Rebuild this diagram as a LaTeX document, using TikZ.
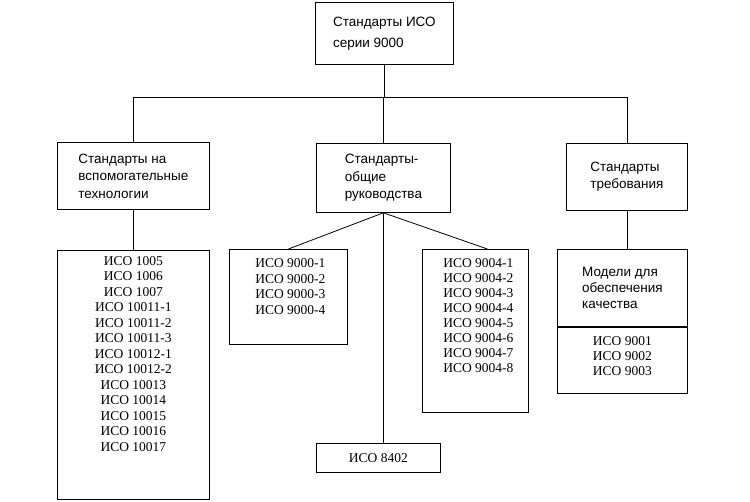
\documentclass[tikz,border=0pt]{standalone}
\usepackage{fontspec}
\setmainfont{Liberation Serif}
\setsansfont{Liberation Sans}
\usetikzlibrary{calc}

\begin{document}
\begin{tikzpicture}[x=1pt,y=-1pt,line width=0.8pt,
        hdr/.style={draw,anchor=north west,align=left,inner sep=0pt,font=\sffamily\fontsize{13.5}{17.5}\selectfont},
        lst/.style={draw,anchor=north west,inner sep=0pt,font=\fontsize{13.5}{15.5}\selectfont},
        lsttext/.style={anchor=north,align=center,inner sep=0pt,font=\fontsize{13.5}{15.5}\selectfont}]
        \useasboundingbox (0,0) rectangle (750,501);
        \node[hdr,minimum width=138pt,minimum height=62pt,font=\sffamily\fontsize{13.5}{21}\selectfont] (top) at (315,2) {Стандарты ИСО\\серии 9000};
        \node[hdr,minimum width=152pt,minimum height=67pt] (aux) at (57,142) {Стандарты на\\вспомогательные\\технологии};
        \node[hdr,minimum width=134pt,minimum height=69pt] (gen) at (316,143) {Стандарты-\\общие\\руководства};
        \node[hdr,minimum width=121pt,minimum height=67pt] (req) at (566,143) {Стандарты\\требования};
        \node[lst,minimum width=152pt,minimum height=249pt] (auxlist) at (57,250) {};
        \node[lsttext] (auxitems) at ($(auxlist.north)+(0,6)$) {ИСО 1005\\ИСО 1006\\ИСО 1007\\ИСО 10011-1\\ИСО 10011-2\\ИСО 10011-3\\ИСО 10012-1\\ИСО 10012-2\\ИСО 10013\\ИСО 10014\\ИСО 10015\\ИСО 10016\\ИСО 10017};
        \node[lst,minimum width=118pt,minimum height=95pt] (l9000) at (229,249) {};
        \node[lsttext] (items9000) at ($(l9000.north)+(2,9.5)$) {ИСО 9000-1\\ИСО 9000-2\\ИСО 9000-3\\ИСО 9000-4};
        \node[lst,minimum width=106pt,minimum height=163pt] (l9004) at (422,249) {};
        \node[lsttext,font=\fontsize{13.5}{15}\selectfont] (items9004) at ($(l9004.north)+(3,9.5)$) {ИСО 9004-1\\ИСО 9004-2\\ИСО 9004-3\\ИСО 9004-4\\ИСО 9004-5\\ИСО 9004-6\\ИСО 9004-7\\ИСО 9004-8};
        \node[lst,minimum width=124pt,minimum height=29pt] (l8402) at (316,443) {ИСО 8402};
        \node[hdr,minimum width=130pt,minimum height=77pt,font=\sffamily\fontsize{13.5}{16}\selectfont] (modelhead) at (557,249) {Модели для\\обеспечения\\качества};
        \node[lst,minimum width=130pt,minimum height=67pt] (modellist) at (557,326) {};
        \node[lsttext,font=\fontsize{13.5}{15}\selectfont] (items9001) at ($(modellist.north)+(0,10)$) {ИСО 9001\\ИСО 9002\\ИСО 9003};
        \draw[line width=1.6pt] (modelhead.south west) -- (modelhead.south east);
        \coordinate (bus) at ($(top.south)+(0,33)$);
        \draw (top.south) -- (bus);
        \draw (aux.north) -- (aux.north |- bus) -- (req.north |- bus) -- (req.north);
        \draw (gen.north) -- (gen.north |- bus);
        \draw (aux.south) -- (auxlist.north);
        \draw (req.south) -- (req.south |- modelhead.north);
        \draw (gen.south) -- (l9000.north);
        \draw (gen.south) -- ([xshift=12pt]l9004.north);
        \draw (gen.south) -- (gen.south |- l8402.north);
    \end{tikzpicture}
\end{document}
